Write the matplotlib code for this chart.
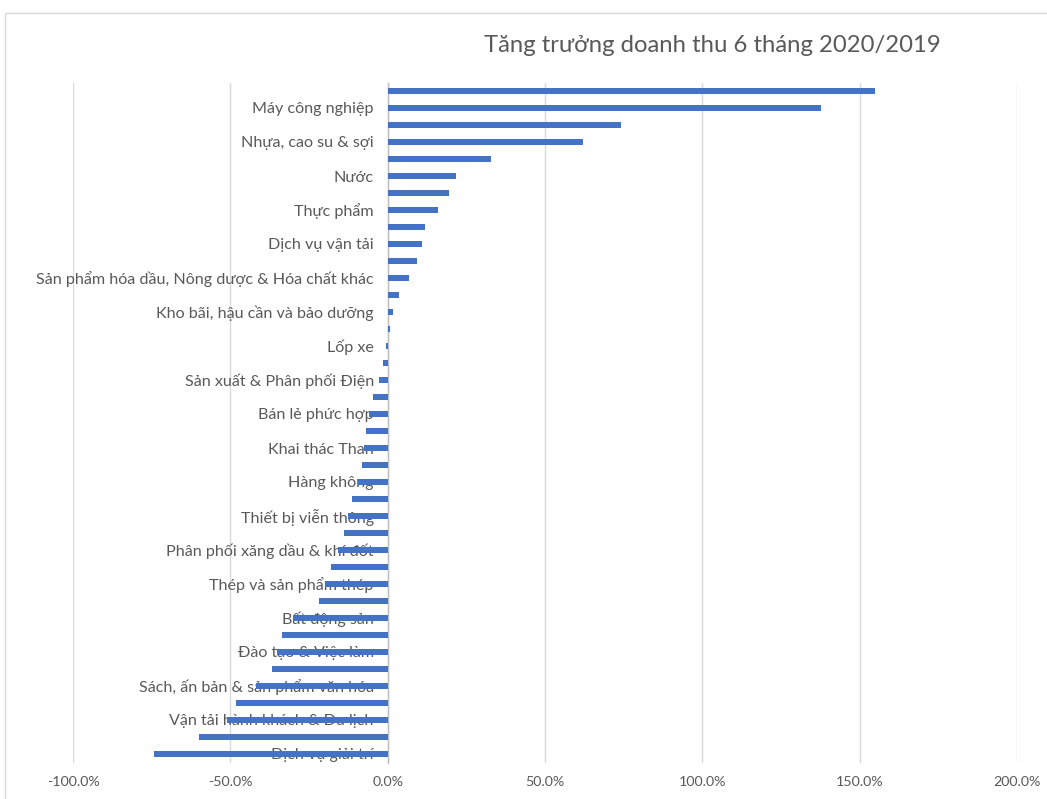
import matplotlib
matplotlib.use("Agg")
import matplotlib.pyplot as plt
from matplotlib.patches import Rectangle
from matplotlib.ticker import FuncFormatter

plt.rcParams['font.family'] = ['Lato', 'DejaVu Sans']

title = "Tăng trưởng doanh thu 6 tháng 2020/2019"

# 40 categories from top to bottom; only every other one is labelled in the source
categories = [
    "", "Máy công nghiệp",
    "", "Nhựa, cao su & sợi",
    "", "Nước",
    "", "Thực phẩm",
    "", "Dịch vụ vận tải",
    "", "Sản phẩm hóa dầu, Nông dược & Hóa chất khác",
    "", "Kho bãi, hậu cần và bảo dưỡng",
    "", "Lốp xe",
    "", "Sản xuất & Phân phối Điện",
    "", "Bán lẻ phức hợp",
    "", "Khai thác Than",
    "", "Hàng không",
    "", "Thiết bị viễn thông",
    "", "Phân phối xăng dầu & khí đốt",
    "", "Thép và sản phẩm thép",
    "", "Bất động sản",
    "", "Đào tạo & Việc làm",
    "", "Sách, ấn bản & sản phẩm văn hóa",
    "", "Vận tải hành khách & Du lịch",
    "", "Dịch vụ giải trí",
]

growth = [
    1.55, 1.376, 0.74, 0.62, 0.327, 0.217, 0.195, 0.159, 0.119, 0.110,
    0.092, 0.069, 0.037, 0.016, 0.006, -0.006, -0.015, -0.028, -0.046, -0.059,
    -0.069, -0.076, -0.082, -0.095, -0.112, -0.125, -0.139, -0.158, -0.181, -0.200,
    -0.217, -0.300, -0.337, -0.352, -0.369, -0.420, -0.481, -0.510, -0.600, -0.744,
]

x_ticks = [-1.0, -0.5, 0.0, 0.5, 1.0, 1.5, 2.0]

fig = plt.figure(figsize=(10.47, 7.99), dpi=100)
fig.patches.append(Rectangle((5 / 1047, -0.01), 1.02, 1 - 13 / 799 + 0.01,
                             transform=fig.transFigure, fill=False,
                             edgecolor="#d9d9d9", linewidth=1.0, zorder=0))

top_px, bot_px = 82.5, 762.5
ax = fig.add_axes([73 / 1047, 1 - bot_px / 799, (1017 - 73) / 1047, (bot_px - top_px) / 799])

ypos = list(range(len(categories)))
ax.barh(ypos, growth, height=0.38, color="#4472C4", zorder=2)
ax.set_ylim(len(categories) - 0.5, -0.5)
ax.set_xlim(x_ticks[0], x_ticks[-1])
ax.set_xticks(x_ticks)
ax.xaxis.set_major_formatter(FuncFormatter(lambda v, p: f"{v*100:.1f}%"))
ax.set_yticks(ypos)
ax.set_yticklabels(categories)

for s in ["top", "right", "bottom"]:
    ax.spines[s].set_visible(False)
ax.spines["left"].set_position(("data", 0))
ax.spines["left"].set_color("#bfbfbf")
ax.spines["left"].set_linewidth(1.0)
ax.spines["left"].set_zorder(1)

ax.grid(axis="x", color="#d9d9d9", linewidth=1.0, zorder=0)
ax.set_axisbelow(True)
ax.tick_params(axis="y", length=0, pad=10, labelsize=11.6, labelcolor="#595959")
ax.tick_params(axis="x", length=0, pad=10, labelsize=10.3, labelcolor="#595959")
for lbl in ax.get_yticklabels():
    lbl.set_zorder(5)

fig.text(712 / 1047, 1 - 45 / 799, title, ha="center", va="center",
         fontsize=17.2, color="#595959")

fig.savefig("out.png", dpi=100)
